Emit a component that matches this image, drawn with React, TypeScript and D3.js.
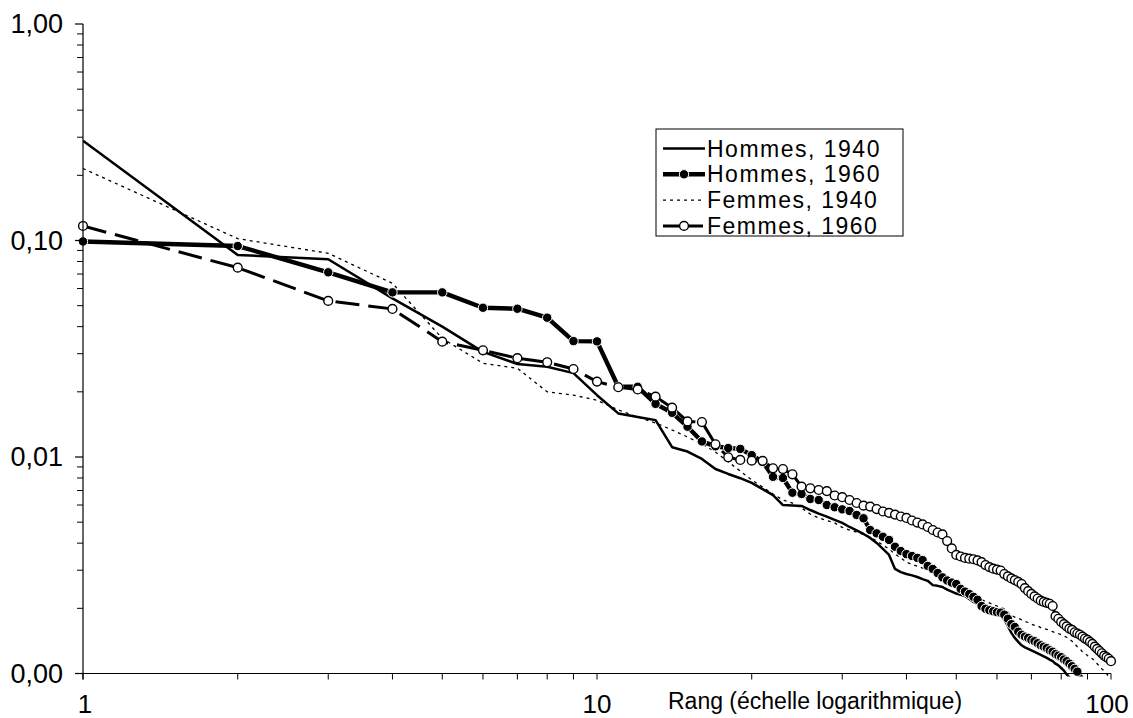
import React from "react";
import * as d3 from "d3";

// Part de chaque rang (prénoms les plus donnés), rangs 1, 2, 3, ...
const hommes1940 = [
  0.289, 0.0857, 0.0819, 0.054, 0.04, 0.0306, 0.0269, 0.0261, 0.0244, 0.0193,
  0.0159, 0.0153, 0.0148, 0.0111, 0.0106, 0.0098, 0.0088, 0.00835, 0.00798, 0.00759,
  0.00711, 0.00667, 0.006, 0.00597, 0.00594, 0.00569, 0.00548, 0.0053, 0.00512, 0.00496,
  0.00475, 0.00458, 0.00441, 0.00423, 0.00401, 0.00376, 0.00353, 0.00304, 0.00294, 0.00288,
  0.00284, 0.00279, 0.00273, 0.00268, 0.00256, 0.00254, 0.00251, 0.00244, 0.00239, 0.00234,
  0.00231, 0.00228, 0.00221, 0.00214, 0.0021, 0.00205, 0.00201, 0.00197, 0.00192, 0.00189,
  0.00184, 0.00177, 0.00166, 0.00154, 0.00146, 0.0014, 0.00135, 0.00132, 0.0013, 0.00128,
  0.00126, 0.00124, 0.00122, 0.0012, 0.00118, 0.00116, 0.00114, 0.00111, 0.00109, 0.00106,
  0.00103, 0.00099, 0.00096, 0.00094,
];

const hommes1960 = [
  0.099, 0.0943, 0.0713, 0.0576, 0.0576, 0.0489, 0.0484, 0.044, 0.0343, 0.0342,
  0.0211, 0.0211, 0.0176, 0.016, 0.0138, 0.0118, 0.0112, 0.011, 0.0109, 0.0102,
  0.0095, 0.0081, 0.008, 0.00684, 0.00675, 0.0064, 0.00633, 0.006, 0.00586, 0.00573,
  0.00563, 0.0054, 0.00521, 0.0046, 0.00444, 0.00428, 0.00414, 0.00385, 0.00368, 0.00356,
  0.00349, 0.00342, 0.00334, 0.00314, 0.00304, 0.00291, 0.00278, 0.00269, 0.00263, 0.00259,
  0.00246, 0.00239, 0.00233, 0.00226, 0.00219, 0.00205, 0.00199, 0.00196, 0.00194, 0.00192,
  0.00191, 0.00187, 0.00179, 0.00169, 0.00164, 0.00156, 0.00151, 0.00148, 0.00146, 0.00143,
  0.00141, 0.00138, 0.00135, 0.00133, 0.00131, 0.00128, 0.00126, 0.00123, 0.00121, 0.00119,
  0.00116, 0.00114, 0.00111, 0.00108, 0.00105, 0.00102, 0.00098, 0.00094,
];

const femmes1940 = [
  0.215, 0.102, 0.0873, 0.0634, 0.0353, 0.0271, 0.0257, 0.02, 0.0193, 0.0183,
  0.0165, 0.0153, 0.01436, 0.01333, 0.01237, 0.01148, 0.01055, 0.0095, 0.00861, 0.00783,
  0.00727, 0.00675, 0.00633, 0.00613, 0.00581, 0.00545, 0.00523, 0.00509, 0.00496, 0.00473,
  0.0046, 0.0045, 0.00439, 0.00427, 0.00409, 0.00392, 0.00376, 0.00356, 0.00342, 0.00327,
  0.00319, 0.00313, 0.00307, 0.00302, 0.00297, 0.00292, 0.00285, 0.00279, 0.00272, 0.00263,
  0.00255, 0.00248, 0.0024, 0.00233, 0.00226, 0.0022, 0.00215, 0.00212, 0.00208, 0.00205,
  0.00202, 0.00199, 0.00192, 0.00185, 0.00182, 0.0018, 0.00177, 0.00174, 0.00172, 0.00169,
  0.00167, 0.00166, 0.00163, 0.00161, 0.0016, 0.00158, 0.00156, 0.00154, 0.00153, 0.00151,
  0.00149, 0.00147, 0.00144, 0.00141, 0.00137, 0.00133, 0.0013, 0.00126, 0.00124, 0.00121,
  0.00119, 0.00117, 0.00114, 0.00111, 0.00108, 0.00105, 0.00103, 0.001, 0.00097, 0.00095,
];

const femmes1960 = [
  0.1167, 0.0749, 0.0526, 0.0483, 0.0341, 0.0311, 0.0286, 0.0274, 0.0255, 0.0223,
  0.021, 0.0205, 0.019, 0.0169, 0.0146, 0.0145, 0.01145, 0.00997, 0.00969, 0.00962,
  0.0096, 0.00887, 0.0088, 0.00832, 0.0073, 0.00717, 0.00704, 0.00696, 0.00664, 0.00652,
  0.00633, 0.00613, 0.00596, 0.0059, 0.00575, 0.0056, 0.00552, 0.00542, 0.00531, 0.00523,
  0.00509, 0.00498, 0.00488, 0.00475, 0.0046, 0.00448, 0.00439, 0.00409, 0.00378, 0.00353,
  0.00347, 0.00342, 0.00339, 0.00337, 0.00333, 0.00327, 0.00317, 0.0031, 0.00305, 0.00302,
  0.00299, 0.00288, 0.00281, 0.00275, 0.0027, 0.00265, 0.00259, 0.00248, 0.0024, 0.00233,
  0.00227, 0.00222, 0.00217, 0.00214, 0.00212, 0.0021, 0.00205, 0.00184, 0.00179, 0.00173,
  0.00169, 0.00165, 0.00161, 0.00159, 0.00155, 0.00153, 0.00151, 0.00148, 0.00145, 0.00143,
  0.0014, 0.00137, 0.00133, 0.0013, 0.00127, 0.00124, 0.00121, 0.00119, 0.00117, 0.00114,
];

const seriesNames = ["Hommes, 1940", "Hommes, 1960", "Femmes, 1940", "Femmes, 1960"];
const yTickValues = [1, 0.1, 0.01, 0.001];
const yTickLabels = ["1,00", "0,10", "0,01", "0,00"];
const xTickValues = [1, 10, 100];
const xTickLabels = ["1", "10", "100"];
const xTitle = "Rang (échelle logarithmique)";

const W = 1133;
const H = 718;
const FONT = "'Liberation Sans', Arial, Helvetica, sans-serif";

type Pt = { rank: number; value: number };
const toPoints = (vals: number[]): Pt[] => vals.map((v, i) => ({ rank: i + 1, value: v }));

const styles = [
  { data: hommes1940, width: 2.5, dash: "", marker: "none" },
  { data: hommes1960, width: 4.4, dash: "", marker: "filled" },
  { data: femmes1940, width: 1.3, dash: "3,4", marker: "none" },
  { data: femmes1960, width: 3, dash: "24,9", marker: "hollow" },
];

export default function App() {
  const x = d3.scaleLog().domain([1, 100]).range([83, 1111]);
  const y = d3.scaleLog().domain([0.001, 1]).range([673.5, 24]);
  const line = d3
    .line<Pt>()
    .x((d) => x(d.rank))
    .y((d) => y(d.value));

  // minor ticks: 2..9 times each decade
  const yMinor: number[] = [];
  for (const dec of [0.001, 0.01, 0.1]) for (let k = 2; k <= 9; k++) yMinor.push(dec * k);
  const xMinor: number[] = [];
  for (const dec of [1, 10]) for (let k = 2; k <= 9; k++) xMinor.push(dec * k);

  const [x0, x1] = x.range();
  const [yb, yt] = y.range();

  const legendX = 656;
  const legendY = 129;
  const rowH = 25.8;

  const marker = (kind: string, cx: number, cy: number, key: string | number) =>
    kind === "filled" ? (
      <circle key={key} cx={cx} cy={cy} r={4.7} fill="#000" stroke="#fff" strokeWidth={1} />
    ) : kind === "hollow" ? (
      <circle key={key} cx={cx} cy={cy} r={4.4} fill="#fff" stroke="#000" strokeWidth={1.4} />
    ) : null;

  return (
    <svg
      width={W}
      height={H}
      style={{ position: "absolute", left: 0, top: 0, background: "#fff" }}
      fontFamily={FONT}
    >
      <defs>
        <clipPath id="plot">
          <rect x={x0} y={yt} width={x1 - x0 + 4} height={yb - yt + 3} />
        </clipPath>
      </defs>
      <rect width={W} height={H} fill="#fff" />

      {/* series */}
      <g clipPath="url(#plot)">
        {styles.map((s, i) => (
          <path
            key={i}
            d={line(toPoints(s.data)) || ""}
            fill="none"
            stroke="#000"
            strokeWidth={s.width}
            strokeDasharray={s.dash || undefined}
            strokeLinejoin="round"
          />
        ))}
      </g>
      {styles.map((s, i) =>
        s.marker === "none" ? null : (
          <g key={"m" + i}>
            {toPoints(s.data)
              .filter((d) => d.value >= 0.001)
              .map((d) => marker(s.marker, x(d.rank), y(d.value), d.rank))}
          </g>
        )
      )}

      {/* y axis */}
      <line x1={x0} x2={x0} y1={yt} y2={yb + 6} stroke="#000" strokeWidth={1.2} />
      {yTickValues.map((v) => (
        <line key={"yM" + v} x1={x0 - 8} x2={x0} y1={y(v)} y2={y(v)} stroke="#000" strokeWidth={1.2} />
      ))}
      {yMinor.map((v) => (
        <line key={"ym" + v} x1={x0 - 6} x2={x0} y1={y(v)} y2={y(v)} stroke="#000" strokeWidth={1} />
      ))}
      {yTickValues.map((v, i) => (
        <text
          key={"yl" + v}
          x={63}
          y={y(v)}
          textAnchor="end"
          dominantBaseline="central"
          fontSize={27}
          fill="#000"
        >
          {yTickLabels[i]}
        </text>
      ))}

      {/* x axis */}
      <line x1={x0 - 8} x2={x1} y1={yb} y2={yb} stroke="#000" strokeWidth={1.2} />
      {xTickValues.concat(xMinor).map((v) => (
        <line key={"xt" + v} x1={x(v)} x2={x(v)} y1={yb} y2={yb + 6} stroke="#000" strokeWidth={1} />
      ))}
      {xTickValues.map((v, i) => (
        <text
          key={"xl" + v}
          x={x(v) + (i === 0 ? 2 : i === 2 ? -4 : 0)}
          y={713}
          textAnchor="middle"
          fontSize={26}
          fill="#000"
        >
          {xTickLabels[i]}
        </text>
      ))}
      <text x={668} y={709} fontSize={23} fill="#000">
        {xTitle}
      </text>

      {/* legend */}
      <rect x={legendX} y={legendY} width={247} height={107} fill="#fff" stroke="#000" strokeWidth={1} />
      {styles.map((s, i) => {
        const cy = legendY + 19 + i * rowH;
        return (
          <g key={"lg" + i}>
            <line
              x1={legendX + 7}
              x2={legendX + 49}
              y1={cy + 0.5}
              y2={cy + 0.5}
              stroke="#000"
              strokeWidth={s.width}
              strokeDasharray={s.marker === "hollow" ? "17,6" : s.dash || undefined}
            />
            {marker(s.marker, legendX + 28, cy + 0.5, "lm" + i)}
            <text
              x={legendX + 51}
              y={cy + 8.5}
              fontSize={23}
              letterSpacing={1.5}
              fill="#000"
            >
              {seriesNames[i]}
            </text>
          </g>
        );
      })}
    </svg>
  );
}
